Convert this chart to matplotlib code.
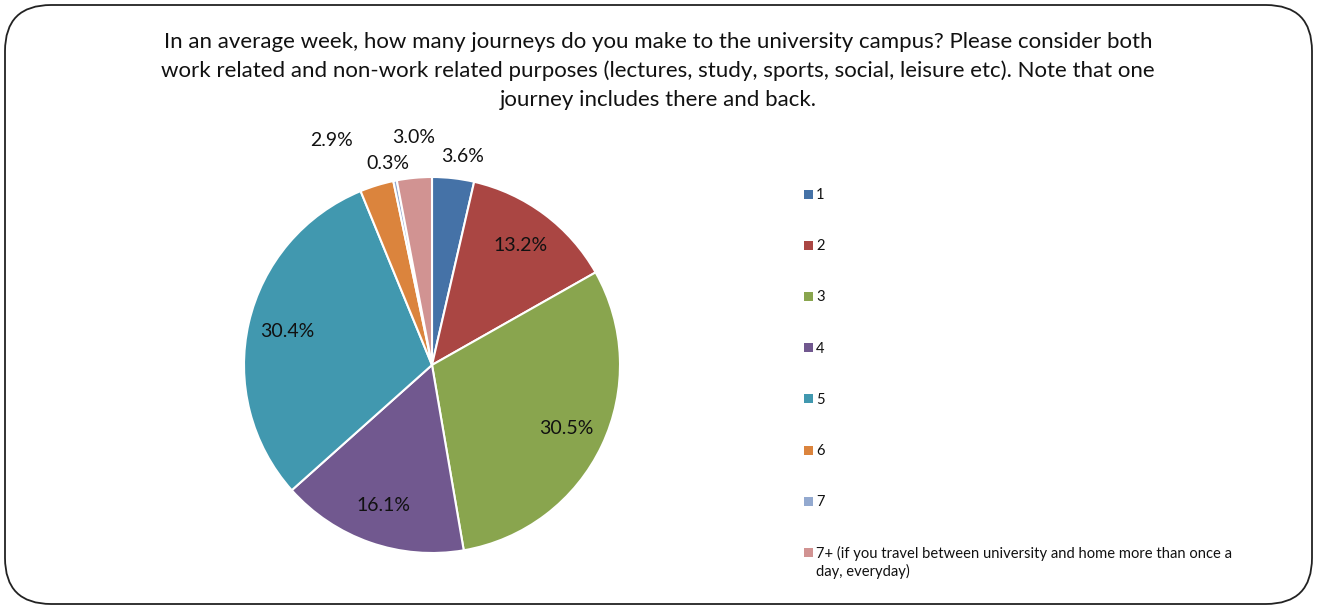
import numpy as np
import matplotlib.pyplot as plt
from matplotlib.patches import FancyBboxPatch, Rectangle

plt.rcParams['font.family'] = ['Lato', 'DejaVu Sans']

categories = ['1', '2', '3', '4', '5', '6', '7',
              '7+ (if you travel between university and home more than once a\nday, everyday)']
shares = [3.6, 13.2, 30.5, 16.1, 30.4, 2.9, 0.3, 3.0]
colors = ['#4572A7', '#AA4643', '#89A54E', '#71588F', '#4198AF', '#DB843D', '#93A9CF', '#D19392']

title = ('In an average week, how many journeys do you make to the university campus? Please consider both\n'
         'work related and non-work related purposes (lectures, study, sports, social, leisure etc). Note that one\n'
         'journey includes there and back.')

W, H = 1317, 608
fig = plt.figure(figsize=(W / 100, H / 100), dpi=100)

# rounded frame around the whole chart (kept behind the pie)
frame = FancyBboxPatch((5 / W, 4 / H), (W - 10) / W, (H - 9) / H,
                       boxstyle='round,pad=0,rounding_size=0.035',
                       transform=fig.transFigure, facecolor='white',
                       edgecolor='#222222', linewidth=1.3, mutation_aspect=W / H,
                       zorder=-5)
fig.patches.append(frame)

fig.text(658 / W, 1 - 32 / H, title, ha='center', va='top', fontsize=16,
         linespacing=1.52, color='#111111')

# pie axes: centre (432, 365) px, radius 188 px
cx, cy, R, m = 432, 365, 188, 1.5
ax = fig.add_axes([(cx - R * m) / W, (H - cy - R * m) / H, 2 * R * m / W, 2 * R * m / H])
ax.patch.set_alpha(0)
wedges, _ = ax.pie(shares, colors=colors, startangle=90, counterclock=False,
                   wedgeprops=dict(edgecolor='white', linewidth=1.5))
ax.set_xlim(-m, m)
ax.set_ylim(-m, m)
ax.set_aspect('equal')
ax.axis('off')

# labels: inside for big slices, pushed outside (radius, angle nudge) for the thin ones
label_pos = {0: (1.12, -2.0), 5: (1.31, 6.9), 6: (1.095, 1.0), 7: (1.215, -0.9)}
cum = np.cumsum([0] + shares)
for i, v in enumerate(shares):
    mid = 90 - 360 * (cum[i] + v / 2) / 100
    r, nudge = label_pos.get(i, (0.79, 0.0))
    a = np.deg2rad(mid + nudge)
    ax.text(r * np.cos(a), r * np.sin(a), f'{v:.1f}%', ha='center', va='center',
            fontsize=14, color='#111111')

# legend on the right
y0, step = 194, 51.2
for i, (lab, c) in enumerate(zip(categories, colors)):
    y = y0 + i * step
    fig.patches.append(Rectangle((804 / W, 1 - (y + 4.5) / H), 9 / W, 9 / H,
                                 transform=fig.transFigure, facecolor=c, edgecolor='none'))
    fig.text(816 / W, 1 - (y - 6) / H, lab, ha='left', va='top', fontsize=10.6,
             color='#111111', linespacing=1.22)

fig.savefig('out.png', dpi=100)
